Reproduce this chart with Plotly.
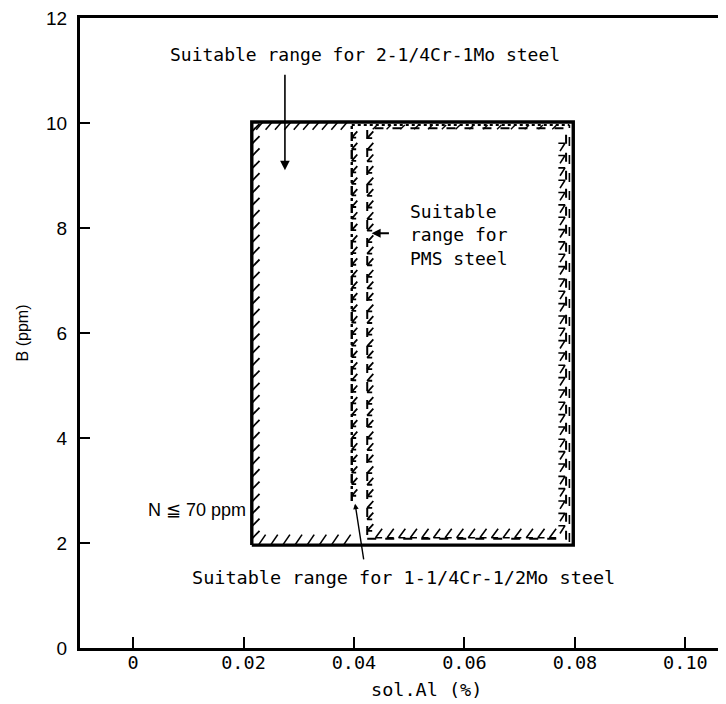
import numpy as np
import plotly.graph_objects as go

# ---- data -------------------------------------------------------------
range_names = ["2-1/4Cr-1Mo", "1-1/4Cr-1/2Mo", "PMS"]
al_min = [0.0215, 0.0396, 0.0424]
al_max = [0.0797, 0.0790, 0.0784]
b_min = [1.96, 2.02, 2.08]
b_max = [10.02, 9.96, 9.90]

x_tick_vals = [0, 0.02, 0.04, 0.06, 0.08, 0.10]
x_tick_text = ["0", "0.02", "0.04", "0.06", "0.08", "0.10"]
y_tick_vals = [0, 2, 4, 6, 8, 10, 12]
y_tick_text = ["0", "2", "4", "6", "8", "10", "12"]

x_range = [-0.0096, 0.1088]
y_range = [0, 12]

MONO = "DejaVu Sans Mono"
SANS = "Liberation Sans"

fig = go.Figure()


def path_trace(paths, width=2, dash="solid"):
    xs, ys = [], []
    for px, py in paths:
        xs += list(px) + [None]
        ys += list(py) + [None]
    fig.add_trace(go.Scatter(x=xs, y=ys, mode="lines",
                             line=dict(color="black", width=width, dash=dash),
                             hoverinfo="skip", showlegend=False))


def marks(anchors_x, anchors_y, offsets_x, offsets_y, width=1.6):
    paths = []
    for ax, ay in zip(anchors_x, anchors_y):
        paths.append(([ax + o for o in offsets_x], [ay + o for o in offsets_y]))
    path_trace(paths, width=width)


# ---- 2-1/4Cr-1Mo (outer, solid) --------------------------------------
x0, x1, y0, y1 = al_min[0], al_max[0], b_min[0], b_max[0]
path_trace([([x0, x1, x1, x0, x0], [y0, y0, y1, y1, y0])], width=3.4)
ys = np.arange(y0 + 0.12, y1 - 0.15, 0.235)
marks([x0] * len(ys), ys, [0, 0.0014], [0, 0.15], width=1.8)
xs = np.arange(x0 + 0.0008, al_min[1] - 0.0005, 0.0017)
marks(xs, [y1 - 0.15] * len(xs), [0, 0.0012], [0, 0.15], width=1.5)
xs = np.arange(x0 + 0.0012, al_min[1] - 0.0005, 0.0022)
marks(xs, [y0] * len(xs), [0, 0.0013], [0, 0.2], width=1.6)

# ---- 1-1/4Cr-1/2Mo (dash-dot) ----------------------------------------
x0, x1, y0, y1 = al_min[1], al_max[1], b_min[1], b_max[1]
path_trace([([x0, x0], [2.8, y1])], width=2.4, dash="dashdot")
path_trace([([x0, x1], [y1, y1])], width=2, dash="dot")
path_trace([([x1, x1], [y0, y1])], width=1.6, dash="dash")
ys = np.arange(2.9, y1 - 0.1, 0.22)
marks([x0] * len(ys), ys, [0.0010, 0, 0.0008], [0.12, 0, 0.0], width=1.8)

# ---- PMS (dashed) -----------------------------------------------------
x0, x1, y0, y1 = al_min[2], al_max[2], b_min[2], b_max[2]
path_trace([([x0, x1, x1, x0, x0], [y0, y0, y1, y1, y0])], width=2, dash="dash")
ys = np.arange(y0 + 0.15, y1 - 0.1, 0.22)
marks([x0] * len(ys), ys, [0.0011, 0, 0.0009], [0.13, 0, 0.0], width=1.8)
ys = np.arange(y0 + 0.25, y1 - 0.05, 0.235)
marks([x1] * len(ys), ys, [-0.0014, -0.0002, -0.0011], [0, 0, -0.15], width=1.6)
xs = np.arange(x0 + 0.0015, x1 - 0.001, 0.0021)
marks(xs, [y0 + 0.02] * len(xs), [0.0012, 0, 0.0012], [0.17, 0, 0.0], width=1.6)
xs = np.arange(x0 + 0.001, x1, 0.0025)
marks(xs, [y1 - 0.02] * len(xs), [0, 0.0008], [0, 0.08], width=1.4)

# ---- annotations ------------------------------------------------------
ann_font = dict(family=MONO, size=18, color="black")
fig.add_annotation(x=0.0420, y=11.3, text="Suitable range for 2-1/4Cr-1Mo steel",
                   showarrow=False, font=ann_font, xanchor="center", yanchor="middle")
fig.add_annotation(x=0.0275, y=9.1, ax=0.0275, ay=10.95, xref="x", yref="y",
                   axref="x", ayref="y", text="", showarrow=True,
                   arrowhead=2, arrowsize=1.2, arrowwidth=1.6, arrowcolor="black")
fig.add_annotation(x=0.0498, y=7.86, text="Suitable<br>range for<br>PMS steel",
                   showarrow=False, font=ann_font, xanchor="left", yanchor="middle",
                   align="left")
fig.add_annotation(x=0.0432, y=7.9, ax=0.0466, ay=7.9, xref="x", yref="y",
                   axref="x", ayref="y", text="", showarrow=True,
                   arrowhead=2, arrowsize=1.0, arrowwidth=1.8, arrowcolor="black")
fig.add_annotation(x=0.0490, y=1.35, text="Suitable range for 1-1/4Cr-1/2Mo steel",
                   showarrow=False, font=dict(family=MONO, size=18.5, color="black"),
                   xanchor="center", yanchor="middle")
fig.add_annotation(x=0.0402, y=2.75, ax=0.0418, ay=1.66, xref="x", yref="y",
                   axref="x", ayref="y", text="", showarrow=True,
                   arrowhead=2, arrowsize=0.8, arrowwidth=1.4, arrowcolor="black")
fig.add_annotation(x=0.0115, y=2.62, text="N ≦ 70 ppm",
                   showarrow=False, font=dict(family=SANS, size=18, color="black"),
                   xanchor="center", yanchor="middle")
# x-axis title (placed in paper coordinates just below the tick labels)
fig.add_annotation(x=0.0532, y=-0.066, xref="x", yref="paper", text="sol.Al (%)",
                   showarrow=False, font=dict(family=MONO, size=18.5, color="black"),
                   xanchor="center", yanchor="middle")

fig.update_layout(
    width=726, height=704,
    margin=dict(l=72, r=0, t=6, b=64),
    paper_bgcolor="white", plot_bgcolor="white",
    showlegend=False,
)
fig.update_xaxes(
    range=x_range, tickvals=x_tick_vals, ticktext=x_tick_text,
    showgrid=False, zeroline=False, showline=True, linecolor="black", linewidth=3,
    mirror=True, ticks="inside", ticklen=11, tickwidth=1.6, tickcolor="black",
    ticklabelstandoff=-4,
    tickfont=dict(family=MONO, size=18.5, color="black"),
)
fig.update_yaxes(
    range=y_range, tickvals=y_tick_vals, ticktext=y_tick_text,
    showgrid=False, zeroline=False, showline=True, linecolor="black", linewidth=3,
    ticks="inside", ticklen=10, tickwidth=1.6, tickcolor="black",
    ticklabelstandoff=6, ticklabeloverflow="allow",
    tickfont=dict(family=SANS, size=19, color="black"),
    title=dict(text="B (ppm)", font=dict(family=SANS, size=16, color="black"), standoff=14),
)

fig.write_html("out.html")
